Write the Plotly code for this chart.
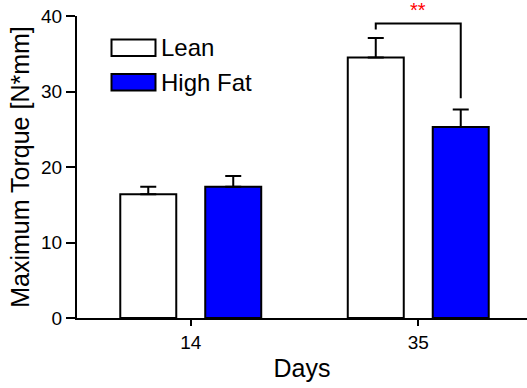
import plotly.graph_objects as go

categories = ["14", "35"]
lean_values = [16.4, 34.5]
lean_err = [1.0, 2.6]
highfat_values = [17.4, 25.3]
highfat_err = [1.4, 2.3]
y_ticks = [0, 10, 20, 30, 40]

# significance bracket (data units)
bracket_top = 39.0
bracket_left_bottom = 38.2
bracket_right_bottom = 29.1
star_text = "**"

FONT = "Liberation Sans, Arial, sans-serif"
W, H = 527, 388
L, R, T, B = 77, 0, 16, 70
bargap = 0.253
offset = (1 - bargap) / 4

fig = go.Figure()
fig.add_trace(go.Bar(
    name="Lean", x=categories, y=lean_values,
    marker=dict(color="white", line=dict(color="black", width=2)),
    error_y=dict(type="data", symmetric=False, array=lean_err, arrayminus=[0, 0],
                 color="black", thickness=2, width=8),
))
fig.add_trace(go.Bar(
    name="High Fat", x=categories, y=highfat_values,
    marker=dict(color="#0000FF", line=dict(color="black", width=2)),
    error_y=dict(type="data", symmetric=False, array=highfat_err, arrayminus=[0, 0],
                 color="black", thickness=2, width=8),
))

pw = W - L - R
ph = H - T - B
def px(x):  # pixel x -> paper
    return (x - L) / pw
def py(y):  # pixel y -> paper
    return (H - B - y) / ph

# bracket
xl = 1 - offset
xr = 1 + offset
fig.add_shape(type="path", xref="x", yref="y",
              path=f"M {xl} {bracket_left_bottom} L {xl} {bracket_top} L {xr} {bracket_top} L {xr} {bracket_right_bottom}",
              line=dict(color="black", width=2))
fig.add_annotation(x=1, y=py(-3), xref="x", yref="paper", text=star_text, showarrow=False,
                   yanchor="top",
                   font=dict(family=FONT, size=20, color="red"))

# custom legend in paper coords from pixel positions
legend_items = [("Lean", "white", 39.5, 56.0), ("High Fat", "#0000FF", 74.0, 90.5)]
for name, color, y0, y1 in legend_items:
    fig.add_shape(type="rect", xref="paper", yref="paper",
                  x0=px(111.5), x1=px(155.5), y0=py(y1), y1=py(y0),
                  fillcolor=color, line=dict(color="black", width=2))
    fig.add_annotation(x=px(159), y=py((y0 + y1) / 2), xref="paper", yref="paper",
                       text=name, showarrow=False, xanchor="left", yanchor="middle",
                       font=dict(family=FONT, size=24, color="black"))

fig.update_layout(
    width=W, height=H,
    margin=dict(l=L, r=R, t=T, b=B, autoexpand=False),
    paper_bgcolor="white", plot_bgcolor="white",
    barmode="group", bargap=bargap, bargroupgap=0.341,
    showlegend=False,
    font=dict(family=FONT, color="black"),
)
fig.update_xaxes(
    type="category", range=[-0.5, -0.5 + pw / 227.5], automargin=False,
    showline=True, linecolor="black", linewidth=2,
    ticks="outside", ticklen=6, tickwidth=2, tickcolor="black",
    tickfont=dict(family=FONT, size=19, color="black"),
    showgrid=False, zeroline=False,
    title=dict(text="Days", font=dict(family=FONT, size=25, color="black"), standoff=8),
)
fig.update_yaxes(
    range=[0, 40], tickvals=y_ticks, automargin=False, ticklabeloverflow="allow",
    showline=True, linecolor="black", linewidth=2,
    ticks="outside", ticklen=9, tickwidth=2, tickcolor="black",
    tickfont=dict(family=FONT, size=19, color="black"),
    showgrid=False, zeroline=False,
    title=dict(text="Maximum Torque [N*mm]", font=dict(family=FONT, size=25, color="black"), standoff=4),
)

fig.write_html("out.html", config={"displayModeBar": False},
               post_script="document.body.style.margin='0';document.body.style.overflow='hidden';")
